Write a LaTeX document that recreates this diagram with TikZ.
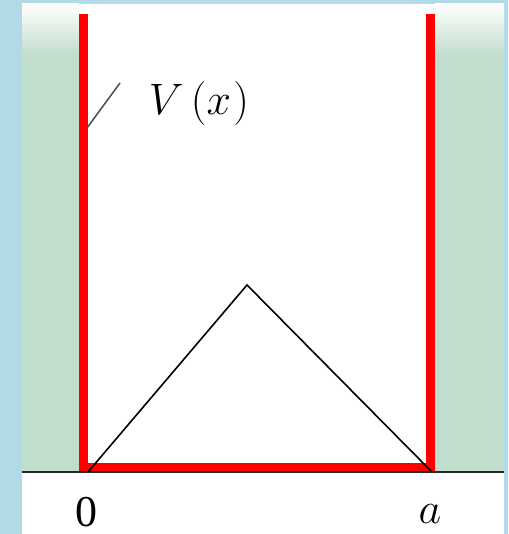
\documentclass[tikz,border=0pt]{standalone}
\usepackage{fix-cm}
\usepackage{fontspec}
\newfontfamily\tnr{Liberation Serif}
\definecolor{bluebg}{RGB}{178,218,230}
\definecolor{greenbg}{RGB}{193,221,203}
\tikzset{
  lbl/.style={inner sep=0pt, font=\fontsize{44}{50}\selectfont},
  wall/.style={red, line width=9pt, line join=miter},
  tri/.style={black, line width=1.6pt},
}
\begin{document}
\begin{tikzpicture}[x=1pt,y=-1pt]
\useasboundingbox (0,0) rectangle (508,534);
\fill[bluebg] (0,0) rectangle (508,534);
\fill[white] (22,4) rectangle (504,534);
% green regions with top fade
\fill[greenbg] (22,55) rectangle (79,471);
\shade[top color=white, bottom color=greenbg] (22,4) rectangle (79,55.5);
\fill[greenbg] (435,55) rectangle (504,471);
\shade[top color=white, bottom color=greenbg] (435,4) rectangle (504,55.5);
% walls
\coordinate (lt) at (83.5,14);
\coordinate (rt) at (430.5,14);
\coordinate (lb) at (83.5,467);
\coordinate (rb) at (430.5,467);
\draw[wall] (lt) -- (lb) -- (rb) -- (rt);
% axis
\coordinate (ax0) at (22,472);
\coordinate (ax1) at (504,472);
\draw[black!85, line width=2.6pt] (ax0) -- (ax1);
% triangle
\coordinate (t0) at (88,472);
\coordinate (tp) at (247,285);
\coordinate (t1) at (431,471);
\draw[tri] (t0) -- (tp) -- (t1);
% label
\node[lbl] (V) at (199,104) {$V\mkern3mu(x\mkern1mu)$};
\coordinate (l0) at (87,128);
\coordinate (l1) at (120,83);
\draw[black!70, line width=1.5pt] (l0) -- (l1);
\node[lbl, anchor=base] (zero) at (86,526) {\tnr 0};
\node[lbl, anchor=base] (a) at (430,523) {$a$};
\end{tikzpicture}
\end{document}
